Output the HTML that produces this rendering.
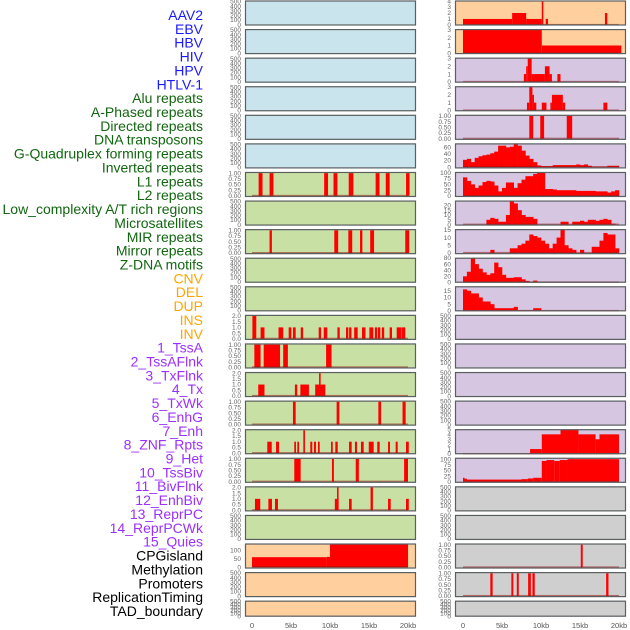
<!DOCTYPE html>
<html><head><meta charset="utf-8">
<style>
html,body{margin:0;padding:0;background:#fff;}
svg{display:block;}
</style></head>
<body>
<svg id="chart" width="630" height="630" xmlns="http://www.w3.org/2000/svg" font-family="Liberation Sans, sans-serif"></svg>
<script>
// ---- track labels ----
const trackLabels = ["AAV2","EBV","HBV","HIV","HPV","HTLV-1","Alu repeats","A-Phased repeats","Directed repeats","DNA transposons","G-Quadruplex forming repeats","Inverted repeats","L1 repeats","L2 repeats","Low_complexity A/T rich regions","Microsatellites","MIR repeats","Mirror repeats","Z-DNA motifs","CNV","DEL","DUP","INS","INV","1_TssA","2_TssAFlnk","3_TxFlnk","4_Tx","5_TxWk","6_EnhG","7_Enh","8_ZNF_Rpts","9_Het","10_TssBiv","11_BivFlnk","12_EnhBiv","13_ReprPC","14_ReprPCWk","15_Quies","CPGisland","Methylation","Promoters","ReplicationTiming","TAD_boundary"];
const labelGroups = [6,13,5,15,5];
const groupColors = ["#1a1aff","#11660f","#ffa500","#9b30ff","#000000"];
const xTickValues = [0,5,10,15,20];
const xTickLabels = ["0","5kb","10kb","15kb","20kb"];

// ---- left column panel data: [startKb, endKb, value] ----
const L6 = [[0.85,1.35,1],[2.25,2.75,1],[9.25,9.75,1],[10.45,10.95,1],[12.4,13.0,1],[15.85,16.35,1],[17.15,17.65,1],[19.75,20.2,1]];
const L8 = [[2.25,2.55,1],[10.55,11.05,1],[12.35,12.85,1],[13.85,14.15,1],[15.15,15.65,1],[19.65,20.15,1]];
const L11 = [[0.05,0.55,2],[1.1,1.6,1],[3.4,4.0,1],[4.7,5.05,1],[5.25,5.6,1],[6.25,6.55,1],[8.55,8.85,1],[9.2,9.65,1],[10.95,11.25,1],[12.05,12.35,1],[12.45,12.75,1],[13.1,13.55,1],[14.1,14.55,1],[15.05,15.55,1],[15.75,16.05,1],[16.15,16.45,1],[16.65,16.95,1],[17.65,17.95,1],[18.55,19.1,1],[19.15,19.65,1]];
const L12 = [[0.3,1.1,1],[1.5,3.6,1],[4.0,4.6,1],[9.5,10.2,1]];
const L13 = [[0.8,1.6,1],[5.5,5.8,1],[6.2,7.3,1],[8.1,9.4,1],[8.6,8.8,2]];
const L14 = [[5.25,5.6,1],[10.85,11.2,1],[16.2,16.55,1],[19.3,19.7,1]];
const L15 = [[1.96,2.53,1],[3.08,3.46,1],[5.42,5.64,1],[5.81,6.03,1],[6.58,6.79,2],[7.47,7.73,1],[7.95,8.2,1],[8.46,8.68,1],[10.13,10.35,1],[10.68,10.99,1],[12.44,12.78,1],[13.2,13.46,1],[13.97,14.32,1],[14.97,15.6,1],[16.06,16.37,1],[17.44,17.69,1],[18.42,18.68,1],[19.74,20.1,1]];
const L16 = [[5.42,6.24,1],[10.25,10.5,1],[13.3,13.7,1],[19.5,20.0,1]];
const L17 = [[0.38,1.06,1],[2.1,2.56,1],[2.95,3.33,1],[10.62,11.1,1],[10.9,11.1,2],[12.44,12.78,1],[15.2,15.5,2],[17.44,17.78,1],[19.74,20.1,1]];
const L19 = [[0,9.6,60],[9.6,10.0,62],[10.0,20.0,137]];

// ---- right column panel data ----
const R0 = [[0,6.3,1],[6.3,8.1,2],[8.1,10.1,1],[10.1,10.3,4],[10.6,10.9,1],[18.2,18.5,2]];
const R1 = [[0,10.1,3],[10.1,20.3,1]];
const R2 = [[7.8,8.1,1],[8.1,8.3,2],[8.3,8.8,3],[8.8,10.5,1],[10.5,11.1,2],[11.1,11.4,1],[12.1,12.5,1]];
const R3 = [[8.2,8.5,1],[8.5,8.9,3],[8.9,9.1,2],[9.1,9.4,1],[10.1,10.7,1],[11.2,11.4,1],[11.4,12.8,2],[12.8,13.1,1],[18.0,18.5,1]];
const R4 = [[8.5,9.0,1],[9.9,10.4,1],[13.3,14.0,1]];
// profiles: values per 0.5kb bin from 0 to 20kb
const R5 = [22,25,15,28,33,36,38,42,47,65,65,60,62,72,65,50,35,25,15,5,3,3,3,6,6,6,6,6,6,8,6,8,4,1,1,1,1,4,4,4];
const R6 = [80,65,50,35,45,60,65,62,45,20,35,58,58,35,55,70,85,85,95,100,100,30,30,28,25,25,25,25,25,22,22,22,22,22,20,20,20,15,20,25];
const R7 = [0,0,0,0,0,0,5,7,6,3,3,10,24,22,15,10,8,8,6,0,0,0,0,0,0,3,3,0,3,3,4,3,5,5,4,5,6,5,1,0];
const R8 = [0,0,0,0,0,0,0,2,0,0,0,0,3,3,5,6,8,12,11,10,8,6,3,6,10,15,5,3,2,0,2,0,0,4,4,8,13,12,12,3];
const R9 = [20,35,80,60,45,33,25,30,65,50,25,15,15,17,17,10,5,2,6,2,2,2,2,2,2,2,2,2,2,2,2,2,2,2,2,2,2,2,2,2];
const R10 = [16,15,13,13,10,7,7,5,2,2,2,2,2,3,0.5,0.5,0.5,0.5,2,2,0,0,0,0,0,0,0,0,0,0,0,0,0,0,0,0,0,0,0,0];
const R15 = [[8.6,10.1,1],[10.1,12.5,4],[12.5,14.8,5],[14.8,17.0,4],[17.0,17.5,3],[17.5,20.0,4]];
const R16 = [[0,0.2,18],[0.2,0.5,14],[0.5,7.5,10],[7.5,8.3,12],[8.3,9.0,15],[9.0,10.1,18],[10.1,10.7,92],[10.7,11.7,96],[11.7,12.4,92],[12.4,13.4,96],[13.4,20,100]];
const R19 = [[15.1,15.35,1]];
const R20 = [[3.5,3.8,1],[6.2,6.45,1],[6.9,7.15,1],[8.35,8.7,1],[8.9,9.2,1],[18.35,18.65,1]];

const T_EMPTY = ["0","100","200","300","400","500"];
const T_BIN = ["0.00","0.25","0.50","0.75","1.00"];
const T_TWO = ["0.0","0.5","1.0","1.5","2.0"];

const BLUE="#c9e4ec", GREEN="#c8e0a4", ORANGE="#ffd09e", PURPLE="#d6c6e2", GRAY="#cfcfcf";

// panel spec: [data, kind, ticks, ymin, ymax, bg]
const leftPanels = [
 [null,"empty",T_EMPTY,-20,520,BLUE],[null,"empty",T_EMPTY,-20,520,BLUE],[null,"empty",T_EMPTY,-20,520,BLUE],
 [null,"empty",T_EMPTY,-20,520,BLUE],[null,"empty",T_EMPTY,-20,520,BLUE],[null,"empty",T_EMPTY,-20,520,BLUE],
 [L6,"seg",T_BIN,-0.05,1.05,GREEN],[null,"empty",T_EMPTY,-20,520,GREEN],[L8,"seg",T_BIN,-0.05,1.05,GREEN],
 [null,"empty",T_EMPTY,-20,520,GREEN],[null,"empty",T_EMPTY,-20,520,GREEN],[L11,"seg",T_TWO,-0.1,2.1,GREEN],
 [L12,"seg",T_BIN,-0.05,1.05,GREEN],[L13,"seg",T_TWO,-0.1,2.1,GREEN],[L14,"seg",T_BIN,-0.05,1.05,GREEN],
 [L15,"seg",T_TWO,-0.1,2.1,GREEN],[L16,"seg",T_BIN,-0.05,1.05,GREEN],[L17,"seg",T_TWO,-0.1,2.1,GREEN],
 [null,"empty",T_EMPTY,-20,520,GREEN],[L19,"seg",["0","50","100"],-8,142,ORANGE],
 [null,"empty",T_EMPTY,-20,520,ORANGE],[null,"empty",T_EMPTY,-20,520,ORANGE]
];
const rightPanels = [
 [R0,"seg",["0","1","2","3","4"],-0.1,4.1,ORANGE],[R1,"seg",["0","1","2","3"],-0.1,3.1,ORANGE],
 [R2,"seg",["0","1","2","3"],-0.1,3.1,PURPLE],[R3,"seg",["0","1","2","3"],-0.1,3.1,PURPLE],
 [R4,"seg",T_BIN,-0.05,1.05,PURPLE],[R5,"prof",["0","20","40","60"],-4,72,PURPLE],
 [R6,"prof",["0","25","50","75","100"],-4,103,PURPLE],[R7,"prof",["0","5","10","15","20"],-1,25,PURPLE],
 [R8,"prof",["0","5","10","15"],-0.8,15.5,PURPLE],[R9,"prof",["0","20","40","60","80"],-1,81,PURPLE],
 [R10,"prof",["0","5","10","15"],-0.3,18.3,PURPLE],[null,"empty",T_EMPTY,-20,520,PURPLE],
 [null,"empty",T_EMPTY,-20,520,PURPLE],[null,"empty",T_EMPTY,-20,520,PURPLE],[null,"empty",T_EMPTY,-20,520,PURPLE],
 [R15,"seg",["0","1","2","3","4","5"],-0.05,5.05,PURPLE],[R16,"seg",["0","25","50","75","100"],-4,106,PURPLE],
 [null,"empty",T_EMPTY,-20,520,GRAY],[null,"empty",T_EMPTY,-20,520,GRAY],
 [R19,"seg",T_BIN,-0.05,1.05,GRAY],[R20,"seg",T_BIN,-0.05,1.05,GRAY],[null,"empty",T_EMPTY,-20,520,GRAY]
];

const NS="http://www.w3.org/2000/svg";
const svg=document.getElementById("chart");
function mk(tag,attrs,parent){const e=document.createElementNS(NS,tag);for(const k in attrs)e.setAttribute(k,attrs[k]);(parent||svg).appendChild(e);return e;}

// labels
let li=0;
labelGroups.forEach((n,g)=>{for(let j=0;j<n;j++){
  const t=mk("text",{x:203,y:20+13.86*li,"text-anchor":"end","font-size":"14",fill:groupColors[g]});
  t.textContent=trackLabels[li];
  
  
  li++;}});

function rowTop(i){return 0.5+28.58*i;}
function rowH(i){return i===21?16:25;}

function drawPanel(spec,row,col){
  const [data,kind,ticks,ymin,ymax,bg]=spec;
  const px0=col===0?245:455, pw=171, x0=col===0?252:463, kbpx=7.8;
  const top=rowTop(row), h=rowH(row);
  const g=mk("g",{});
  
  
  mk("rect",{x:px0,y:top,width:pw,height:h,fill:bg},g);
  const xs=kb=>x0+kb*kbpx;
  const ys=v=>top+h-(v-ymin)/(ymax-ymin)*h;
  // ticks
  ticks.forEach(tl=>{
    const v=parseFloat(tl);
    const t=mk("text",{x:px0-4,y:ys(v)+2.2,"text-anchor":"end","font-size":"6.5",fill:"#666"},g);
    t.textContent=tl;
    
    
  });
  if(kind!=="empty"){
    if(kind==="seg"){
      data.forEach(d=>{
        const r=mk("rect",{x:xs(d[0]),y:ys(d[2]),width:Math.max(0.8,xs(d[1])-xs(d[0])),height:ys(0)-ys(d[2]),fill:"#ff0000"},g);
        
        
      });
    } else {
      data.forEach((v,k)=>{
        if(v<=0)return;
        const r=mk("rect",{x:xs(k*0.5),y:ys(v),width:0.5*kbpx+0.3,height:ys(0)-ys(v),fill:"#ff0000"},g);
        
        
      });
    }
    mk("rect",{x:xs(0),y:ys(0)-1,width:20*kbpx,height:1.5,fill:"rgba(150,20,20,0.55)"},g);
  }
  mk("rect",{x:px0+0.5,y:top+0.5,width:pw-1,height:h-1,fill:"none",stroke:"#5a5f60","stroke-width":1.2},g);
  if(row===21){
    xTickValues.forEach((v,k)=>{
      const t=mk("text",{x:xs(v),y:628,"text-anchor":"middle","font-size":"7.5",fill:"#555"});
      t.textContent=xTickLabels[k];
      
      
    });
  }
}
leftPanels.forEach((p,i)=>drawPanel(p,i,0));
rightPanels.forEach((p,i)=>drawPanel(p,i,1));
</script>
</body></html>
